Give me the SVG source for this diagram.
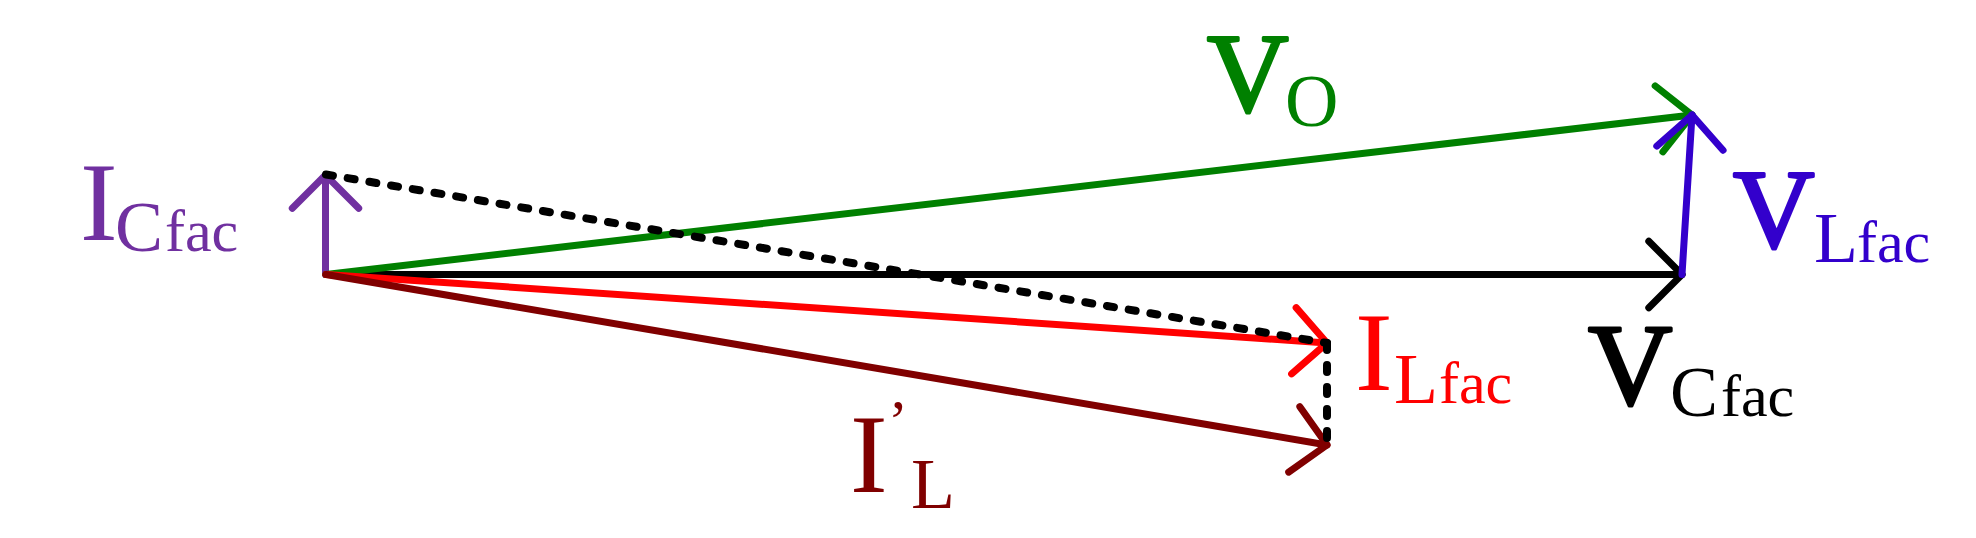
<svg xmlns="http://www.w3.org/2000/svg" width="1976" height="538" viewBox="0 0 1976 538">
<style>
.v{fill:none;stroke-width:7;stroke-linecap:round;stroke-linejoin:round}
.d{fill:none;stroke:#000;stroke-width:8;stroke-linecap:round;stroke-dasharray:7 15}
text{font-family:"Liberation Serif","Times New Roman",serif}
.b{stroke-width:3;stroke-linejoin:round}
.m{font-size:113px}
.s{font-size:72px}
.f{font-size:60px}
.h{fill:none;stroke-width:7;stroke-linecap:round;stroke-linejoin:round}
</style>
<defs>
<marker id="aP" markerUnits="userSpaceOnUse" orient="auto" markerWidth="80" markerHeight="80" refX="40" refY="40" viewBox="0 0 80 80" overflow="visible"><path class="h" d="M6.8 6.8L40 40L6.8 73.2" stroke="#7030A0"/></marker>
<marker id="aK" markerUnits="userSpaceOnUse" orient="auto" markerWidth="80" markerHeight="80" refX="40" refY="40" viewBox="0 0 80 80" overflow="visible"><path class="h" d="M6.8 6.8L40 40L6.8 73.2" stroke="#000"/></marker>
<marker id="aG" markerUnits="userSpaceOnUse" orient="auto" markerWidth="80" markerHeight="80" refX="40" refY="40" viewBox="0 0 80 80" overflow="visible"><path class="h" d="M6.8 6.8L40 40L6.8 73.2" stroke="#008000"/></marker>
<marker id="aR" markerUnits="userSpaceOnUse" orient="auto" markerWidth="80" markerHeight="80" refX="40" refY="40" viewBox="0 0 80 80" overflow="visible"><path class="h" d="M6.8 6.8L40 40L6.8 73.2" stroke="#FF0000"/></marker>
<marker id="aM" markerUnits="userSpaceOnUse" orient="auto" markerWidth="80" markerHeight="80" refX="40" refY="40" viewBox="0 0 80 80" overflow="visible"><path class="h" d="M6.8 6.8L40 40L6.8 73.2" stroke="#800000"/></marker>
<marker id="aB" markerUnits="userSpaceOnUse" orient="auto" markerWidth="80" markerHeight="80" refX="40" refY="40" viewBox="0 0 80 80" overflow="visible"><path class="h" d="M6.8 6.8L40 40L6.8 73.2" stroke="#3300CC"/></marker>
</defs>
<rect width="1976" height="538" fill="#fff"/>
<g id="connectors">
<path id="ICfac-vec" class="v" stroke="#7030A0" d="M325.5 274.5L325.5 175" marker-end="url(#aP)"/>
<path id="VCfac-vec" class="v" stroke="#000" d="M326 274.5L1682 274.5" marker-end="url(#aK)"/>
<path id="VO-vec" class="v" stroke="#008000" d="M326 274.5L1692 115" marker-end="url(#aG)"/>
<path id="ILfac-vec" class="v" stroke="#FF0000" d="M326 274.5L1327 343" marker-end="url(#aR)"/>
<path id="IL-vec" class="v" stroke="#800000" d="M326 274.5L1327 445" marker-end="url(#aM)"/>
<path id="VLfac-vec" class="v" stroke="#3300CC" d="M1682 274.5L1692 115" marker-end="url(#aB)"/>
<path id="dash1" class="d" d="M326 174.5L1327 343"/>
<path id="dash2" class="d" d="M1327 343L1327 445"/>
</g>
<g id="label-ICfac" fill="#7030A0">
<text class="m" x="80" y="240">I</text>
<text class="s" x="115" y="251">C</text>
<text class="f" x="165" y="251">fac</text>
</g>
<g id="label-VO" fill="#008000">
<text class="m b" stroke="#008000" x="1207" y="111">V</text>
<text class="s" x="1285" y="126" style="font-size:74px">O</text>
</g>
<g id="label-VLfac" fill="#3300CC">
<text class="m b" stroke="#3300CC" x="1733" y="247">V</text>
<text class="s" x="1814" y="262">L</text>
<text class="f" x="1857" y="262">fac</text>
</g>
<g id="label-VCfac" fill="#000">
<text class="m b" stroke="#000" x="1588" y="404" style="font-size:117px">V</text>
<text class="s" x="1670" y="416">C</text>
<text class="f" x="1721" y="416">fac</text>
</g>
<g id="label-ILfac" fill="#FF0000">
<text class="m" x="1355" y="390">I</text>
<text class="s" x="1394" y="403">L</text>
<text class="f" x="1439" y="403">fac</text>
</g>
<g id="label-IL" fill="#800000">
<text class="m" x="850" y="492">I</text>
<text class="f" x="888" y="441">’</text>
<text class="s" x="911" y="508">L</text>
</g>
</svg>
